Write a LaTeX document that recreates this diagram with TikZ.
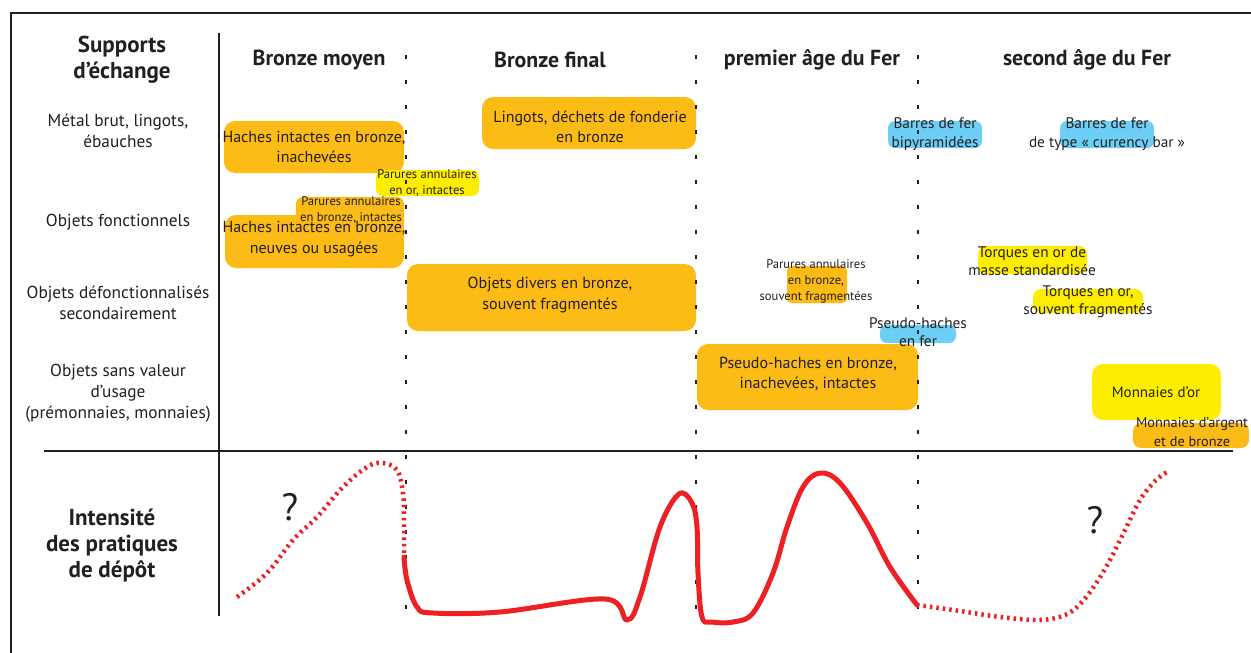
\documentclass[tikz,border=0pt]{standalone}
\usepackage{fontspec}
\setmainfont{PT Sans}
\usepackage{tikz}
\definecolor{orangeBronze}{HTML}{FCBB15}
\definecolor{jauneOr}{HTML}{FFED00}
\definecolor{bleuFer}{HTML}{6DCFF6}
\definecolor{rougeCourbe}{HTML}{ED2024}
\definecolor{encre}{HTML}{231F20}

\begin{document}
\begin{tikzpicture}[x=1pt,y=-1pt,
  trait/.style={draw=encre,line width=2pt},
  periode/.style={draw=encre,line width=2.5pt,dash pattern=on 4pt off 21pt},
  texte/.style={text=encre,align=center,inner sep=0pt,font=\fontsize{16}{20.5}\selectfont},
  rangee/.style={texte,font=\fontsize{17.3}{21}\selectfont},
  moyen/.style={texte,font=\fontsize{15.3}{18.5}\selectfont},
  petit/.style={texte,font=\fontsize{12.6}{16}\selectfont},
  titre/.style={texte,font=\fontsize{21.8}{26}\selectfont\bfseries},
  grandTitre/.style={texte,font=\fontsize{23}{26}\selectfont\bfseries},
  doute/.style={texte,font=\fontsize{38}{40}\selectfont},
  fondBronze/.style={fill=orangeBronze,rounded corners=11pt},
  fondOr/.style={fill=jauneOr,rounded corners=8pt},
  fondFer/.style={fill=bleuFer,rounded corners=7pt},
  courbe/.style={draw=rougeCourbe,line width=5pt,line cap=round,line join=round},
  incertain/.style={draw=rougeCourbe,line width=4.5pt,dash pattern=on 2.5pt off 4pt}]

\useasboundingbox (0,0) rectangle (1251,653);

\draw[trait] (1251,13) -- (11,13) -- (11,653);
\draw[trait] (219,33) -- (219,616);
\draw[trait] (44,451) -- (1233,451);

\fill[fondBronze] (224,121) rectangle (404,173);
\fill[fondBronze,rounded corners=7pt] (296,197) rectangle (404,230);
\fill[fondBronze] (225,215) rectangle (404,268);
\fill[fondOr,rounded corners=7pt] (376,170) rectangle (479,196);
\fill[fondBronze] (482,97) rectangle (696,149);
\fill[fondBronze] (407,264) rectangle (696,331);
\fill[fondBronze,rounded corners=5pt] (787,266) rectangle (847,303);
\fill[fondFer] (888,121) rectangle (982,148);
\fill[fondFer] (1060,121) rectangle (1154,148);
\fill[fondOr] (978,246) rectangle (1087,274);
\fill[fondOr] (1033,289) rectangle (1143,313);
\fill[fondFer] (880,325) rectangle (956,343);
\fill[fondBronze] (697,344) rectangle (918,410);
\fill[fondOr,rounded corners=11pt] (1092,364) rectangle (1221,420);
\fill[fondBronze,rounded corners=8pt] (1133,423) rectangle (1249,448);

\foreach \x in {406,696,918}
  \draw[periode] (\x,55) -- (\x,626);

\node[grandTitre] (Supports) at (122,60) {Supports\\d’échange};
\node[titre] (BronzeMoyen) at (319,60) {Bronze moyen};
\node[titre] (BronzeFinal) at (550,60) {Bronze final};
\node[titre] (PremierFer) at (812,60) {premier âge du Fer};
\node[titre] (SecondFer) at (1087,60) {second âge du Fer};

\node[rangee] (MetalBrut) at (118,131) {Métal brut, lingots,\\ébauches};
\node[rangee] (Fonctionnels) at (118,222) {Objets fonctionnels};
\node[rangee] (Defonctionnalises) at (118,303) {Objets défonctionnalisés\\secondairement};
\node[rangee] (SansValeur) at (118,393) {Objets sans valeur\\d’usage\\(prémonnaies, monnaies)};
\node[grandTitre] (Intensite) at (112,546) {Intensité\\des pratiques\\de dépôt};

\node[texte] (HachesInachevees) at (314,147) {Haches intactes en bronze,\\inachevées};
\node[texte] (HachesNeuves) at (314,239) {Haches intactes en bronze,\\neuves ou usagées};
\node[petit] (ParuresBronze) at (351,210) {Parures annulaires\\en bronze, intactes};
\node[petit] (ParuresOr) at (427,183) {Parures annulaires\\en or, intactes};
\node[texte] (Lingots) at (590,127) {Lingots, déchets de fonderie\\en bronze};
\node[texte] (ObjetsDivers) at (550,295) {Objets divers en bronze,\\souvent fragmentés};
\node[petit] (ParuresFragmentees) at (816,281) {Parures annulaires\\en bronze,\\souvent fragmentées};
\node[moyen] (BarresBipyramidees) at (935,134) {Barres de fer\\bipyramidées};
\node[moyen] (BarresCurrency) at (1107,134) {Barres de fer\\de type « currency bar »};
\node[moyen] (TorquesMasse) at (1032,261) {Torques en or de\\masse standardisée};
\node[moyen] (TorquesFragmentes) at (1088,302) {Torques en or,\\souvent fragmentés};
\node[moyen] (PseudoFer) at (918,332) {Pseudo-haches\\en fer};
\node[texte] (PseudoBronze) at (808,374) {Pseudo-haches en bronze,\\inachevées, intactes};
\node[moyen,font=\fontsize{15}{19}\selectfont] (MonnaiesOr) at (1156,392) {Monnaies d’or};
\node[moyen,font=\fontsize{14.3}{19}\selectfont] (MonnaiesArgent) at (1192,432) {Monnaies d’argent\\et de bronze};

\node[doute] (DouteGauche) at (290,507) {?};
\node[doute] (DouteDroite) at (1095,520) {?};

\draw[incertain] plot[smooth,tension=0.6] coordinates {(237,597) (267,573) (293,540) (317,517) (343,487) (367,467) (382,463) (397,470) (403,493) (404,523) (404,557)};
\draw[courbe] plot[smooth,tension=0.6] coordinates {(404,557) (407,580) (417,607) (433,613) (500,612) (605,599) (627,620) (640,597) (660,527) (679,494) (692,503) (697,527) (698,573) (702,617) (712,622) (733,622) (753,613) (773,573) (787,527) (803,487) (820,473) (840,483) (867,523) (890,567) (917,605)};
\draw[incertain] plot[smooth,tension=0.6] coordinates {(917,605) (960,611) (1000,617) (1040,620) (1065,615) (1080,604) (1095,585) (1110,560) (1125,530) (1140,500) (1155,481) (1167,472)};
\end{tikzpicture}
\end{document}
